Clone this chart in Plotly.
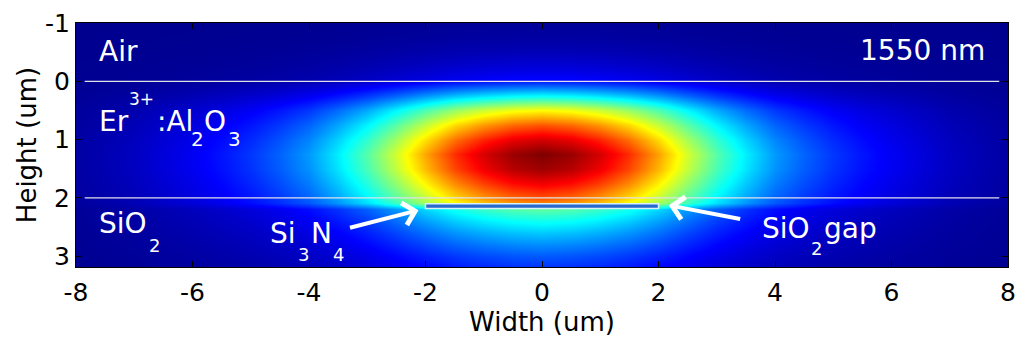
import numpy as np
import plotly.graph_objects as go

# ---- data (normalised mode intensity) ----
# horizontal profile through the mode centre (y ~ 1.25 um)
x_um = [-8, -7.5, -7, -6.5, -6, -5.5, -5, -4.5, -4, -3.5, -3, -2.5, -2, -1.5, -1, -0.5,
        0, 0.5, 1, 1.5, 2, 2.5, 3, 3.5, 4, 4.5, 5, 5.5, 6, 6.5, 7, 7.5, 8]
x_profile = [0.02, 0.035, 0.05, 0.075, 0.10, 0.13, 0.165, 0.21, 0.265, 0.35, 0.45, 0.575, 0.71, 0.83, 0.915, 0.975,
             1.0, 0.975, 0.915, 0.83, 0.71, 0.575, 0.45, 0.35, 0.265, 0.21, 0.165, 0.13, 0.10, 0.075, 0.05, 0.035, 0.02]
# vertical profile through the mode centre (x = 0)
y_um = [-1.0, -0.75, -0.5, -0.25, -0.01, 0.01, 0.25, 0.5, 0.75, 1.0, 1.25, 1.5, 1.75, 2.0, 2.09,
        2.19, 2.4, 2.6, 2.8, 3.0, 3.2]
y_profile = [0.01, 0.02, 0.04, 0.075, 0.12, 0.15, 0.37, 0.62, 0.79, 0.92, 1.0, 0.97, 0.89, 0.79, 0.74,
             0.46, 0.38, 0.31, 0.25, 0.20, 0.16]

# geometry of the structure
layer_bounds = [0, 2]           # Air / Er:Al2O3 / SiO2 interfaces
line_extent = [-7.85, 7.85]
strip_x = [-2.0, 2.0]           # Si3N4 strip
strip_y = [2.10, 2.18]
x_ticks = [-8, -6, -4, -2, 0, 2, 4, 6, 8]
x_tick_text = ['-8', '-6', '-4', '-2', '0', '2', '4', '6', '8']
y_ticks = [-1, 0, 1, 2, 3]
y_tick_text = ['-1', '0', '1', '2', '3']

field = np.outer(np.array(y_profile), np.array(x_profile))

jet = [[0.0, 'rgb(0,0,143)'], [0.111, 'rgb(0,0,255)'], [0.365, 'rgb(0,255,255)'],
       [0.619, 'rgb(255,255,0)'], [0.873, 'rgb(255,0,0)'], [1.0, 'rgb(128,0,0)']]

fig = go.Figure(go.Heatmap(x=x_um, y=y_um, z=field, colorscale=jet, zmin=0, zmax=1,
                           zsmooth='best', showscale=False, hoverinfo='skip'))

W, H = 1016, 340
ML, MR, MT, MB = 76, 8, 23, 73
PW, PH = W - ML - MR, H - MT - MB

def px(xp):
    return (xp - ML) / PW

def py(yp):
    return (H - MB - yp) / PH

FONT = 'DejaVu Sans'
MAIN, SUB, SUBL, SUP = 28, 18, 20, 17
pieces = [
    ('Air', 97, 51, MAIN, 'left'),
    ('1550 nm', 987, 50.5, MAIN, 'right'),
    ('Er', 97, 121.5, MAIN, 'left'),
    ('3+', 127, 99, SUP, 'left'),
    (':Al', 155, 121.5, MAIN, 'left'),
    ('2', 189, 139, SUBL, 'left'),
    ('O', 202, 121.5, MAIN, 'left'),
    ('3', 226, 139, SUBL, 'left'),
    ('SiO', 96.5, 223, MAIN, 'left'),
    ('2', 147, 245, SUB, 'left'),
    ('Si', 268, 233, MAIN, 'left'),
    ('3', 296, 254, SUB, 'left'),
    ('N', 309, 233, MAIN, 'left'),
    ('4', 331, 254, SUB, 'left'),
    ('SiO', 760, 229, MAIN, 'left'),
    ('2', 809, 248, SUB, 'left'),
    ('gap', 822, 229, MAIN, 'left'),
]
annotations = []
for txt, xp, yp, size, anc in pieces:
    annotations.append(dict(text=txt, x=px(xp), y=py(yp), xref='paper', yref='paper',
                            xanchor=anc, yanchor='middle', showarrow=False,
                            font=dict(family=FONT, size=size, color='white')))

# arrows (tip in data coords, tail offset in pixels)
annotations.append(dict(text='', x=-2.12, y=2.21, xref='x', yref='y', ax=-70, ay=18,
                        showarrow=True, arrowhead=4, arrowwidth=4, arrowsize=1.1,
                        arrowcolor='white', standoff=0))
annotations.append(dict(text='', x=2.175, y=2.127, xref='x', yref='y', ax=73, ay=14,
                        showarrow=True, arrowhead=4, arrowwidth=4, arrowsize=1.1,
                        arrowcolor='white', standoff=0))

shapes = []
for yb in layer_bounds:
    shapes.append(dict(type='line', x0=line_extent[0], x1=line_extent[1], y0=yb, y1=yb,
                       xref='x', yref='y', line=dict(color='rgb(225,225,235)', width=1.3)))
shapes.append(dict(type='rect', x0=strip_x[0], x1=strip_x[1], y0=strip_y[0], y1=strip_y[1],
                   xref='x', yref='y', fillcolor='rgb(40,105,205)',
                   line=dict(color='rgb(215,240,250)', width=1.5)))

fig.update_layout(
    width=W, height=H, margin=dict(l=ML, r=MR, t=MT, b=MB, autoexpand=False),
    paper_bgcolor='white', plot_bgcolor='rgb(0,0,143)',
    font=dict(family=FONT, color='black'),
    annotations=annotations, shapes=shapes,
)
fig.update_xaxes(range=[-8, 8], tickvals=x_ticks, ticktext=x_tick_text, ticks='inside', ticklen=6,
                 tickcolor='black', showline=True, linecolor='black', linewidth=1, mirror='ticks',
                 showgrid=False, zeroline=False, tickfont=dict(size=25), automargin=False,
                 ticklabelstandoff=3,
                 title=dict(text='Width (um)', font=dict(size=26), standoff=2))
fig.update_yaxes(range=[3.185, -1], tickvals=y_ticks, ticktext=y_tick_text, ticks='inside', ticklen=6,
                 tickcolor='black', showline=True, linecolor='black', linewidth=1, mirror='ticks',
                 showgrid=False, zeroline=False, tickfont=dict(size=25), automargin=False,
                 title=dict(text='Height (um)', font=dict(size=26), standoff=0))

fig.write_html('out.html', config={'displayModeBar': False},
               post_script="document.body.style.margin='0px';")
